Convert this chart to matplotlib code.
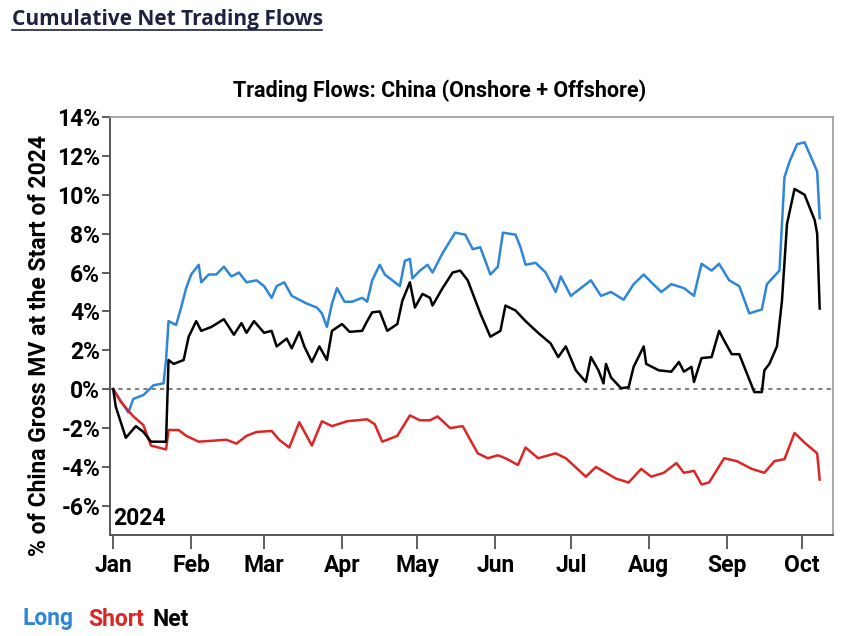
import matplotlib
matplotlib.use("Agg")
import matplotlib.pyplot as plt
import matplotlib.dates as mdates
import pandas as pd

# Long (gross buying) cumulative flows, % of gross MV
long_dates = ["2024-01-01", "2024-01-07", "2024-01-09", "2024-01-13", "2024-01-17", "2024-01-21",
              "2024-01-22", "2024-01-23", "2024-01-26", "2024-01-28", "2024-01-30", "2024-02-01",
              "2024-02-04", "2024-02-05", "2024-02-08", "2024-02-11", "2024-02-14", "2024-02-17",
              "2024-02-20", "2024-02-23", "2024-02-27", "2024-03-01", "2024-03-04", "2024-03-06",
              "2024-03-09", "2024-03-12", "2024-03-15", "2024-03-18", "2024-03-22", "2024-03-24",
              "2024-03-26", "2024-03-28", "2024-03-30", "2024-04-02", "2024-04-05", "2024-04-09",
              "2024-04-11", "2024-04-13", "2024-04-16", "2024-04-18", "2024-04-21", "2024-04-24",
              "2024-04-26", "2024-04-28", "2024-04-29", "2024-05-02", "2024-05-05", "2024-05-07",
              "2024-05-11", "2024-05-16", "2024-05-20", "2024-05-23", "2024-05-26", "2024-05-30",
              "2024-06-02", "2024-06-04", "2024-06-09", "2024-06-11", "2024-06-13", "2024-06-17",
              "2024-06-21", "2024-06-25", "2024-06-27", "2024-07-01", "2024-07-04", "2024-07-09",
              "2024-07-13", "2024-07-17", "2024-07-22", "2024-07-26", "2024-07-30", "2024-08-02",
              "2024-08-06", "2024-08-10", "2024-08-15", "2024-08-19", "2024-08-22", "2024-08-26",
              "2024-08-29", "2024-09-02", "2024-09-06", "2024-09-10", "2024-09-15", "2024-09-17",
              "2024-09-22", "2024-09-24", "2024-09-26", "2024-09-29", "2024-10-02", "2024-10-04",
              "2024-10-07", "2024-10-08"]
long_vals = [0.0, -1.2, -0.5, -0.3, 0.2, 0.3,
             1.5, 3.5, 3.3, 4.2, 5.2, 5.9,
             6.4, 5.5, 5.9, 5.9, 6.3, 5.8,
             6.0, 5.5, 5.6, 5.3, 4.7, 5.3,
             5.5, 4.8, 4.6, 4.4, 4.2, 3.9,
             3.2, 4.4, 5.2, 4.5, 4.5, 4.7,
             4.5, 5.6, 6.4, 5.9, 5.6, 5.3,
             6.6, 6.7, 5.7, 6.1, 6.4, 6.0,
             7.0, 8.05, 7.95, 7.2, 7.3, 5.9,
             6.3, 8.05, 7.95, 7.3, 6.4, 6.5,
             6.0, 5.0, 5.8, 4.8, 5.1, 5.6,
             4.8, 5.0, 4.6, 5.4, 5.9, 5.5,
             5.0, 5.4, 5.2, 4.8, 6.45, 6.1,
             6.45, 5.6, 5.3, 3.9, 4.1, 5.4,
             6.1, 10.9, 11.7, 12.6, 12.7, 12.1,
             11.2, 8.8]

# Short cumulative flows
short_dates = ["2024-01-01", "2024-01-04", "2024-01-09", "2024-01-13", "2024-01-16", "2024-01-22",
               "2024-01-23", "2024-01-27", "2024-01-30", "2024-02-04", "2024-02-15", "2024-02-19",
               "2024-02-23", "2024-02-27", "2024-03-04", "2024-03-07", "2024-03-11", "2024-03-15",
               "2024-03-20", "2024-03-24", "2024-03-28", "2024-04-03", "2024-04-11", "2024-04-14",
               "2024-04-17", "2024-04-23", "2024-04-28", "2024-05-02", "2024-05-06", "2024-05-09",
               "2024-05-14", "2024-05-19", "2024-05-22", "2024-05-25", "2024-05-29", "2024-06-02",
               "2024-06-05", "2024-06-10", "2024-06-13", "2024-06-18", "2024-06-25", "2024-06-29",
               "2024-07-07", "2024-07-11", "2024-07-15", "2024-07-19", "2024-07-24", "2024-07-29",
               "2024-08-02", "2024-08-07", "2024-08-12", "2024-08-15", "2024-08-19", "2024-08-22",
               "2024-08-25", "2024-08-31", "2024-09-05", "2024-09-11", "2024-09-16", "2024-09-20",
               "2024-09-24", "2024-09-28", "2024-10-02", "2024-10-07", "2024-10-08"]
short_vals = [0.0, -0.65, -1.4, -1.85, -2.9, -3.1,
              -2.1, -2.1, -2.4, -2.7, -2.6, -2.8,
              -2.4, -2.2, -2.15, -2.6, -3.0, -1.7,
              -2.9, -1.65, -1.9, -1.65, -1.55, -1.8,
              -2.7, -2.4, -1.35, -1.6, -1.6, -1.4,
              -2.0, -1.9, -2.6, -3.3, -3.55, -3.4,
              -3.55, -3.9, -3.0, -3.55, -3.3, -3.55,
              -4.5, -4.0, -4.3, -4.6, -4.8, -4.1,
              -4.5, -4.3, -3.8, -4.3, -4.2, -4.9,
              -4.8, -3.55, -3.7, -4.1, -4.3, -3.7,
              -3.6, -2.25, -2.75, -3.3, -4.65]

# Net cumulative flows
net_dates = ["2024-01-01", "2024-01-02", "2024-01-06", "2024-01-10", "2024-01-13", "2024-01-16",
             "2024-01-20", "2024-01-22", "2024-01-23", "2024-01-25", "2024-01-29", "2024-01-31",
             "2024-02-03", "2024-02-05", "2024-02-09", "2024-02-14", "2024-02-18", "2024-02-21",
             "2024-02-23", "2024-02-26", "2024-03-01", "2024-03-04", "2024-03-06", "2024-03-10",
             "2024-03-12", "2024-03-15", "2024-03-17", "2024-03-20", "2024-03-23", "2024-03-26",
             "2024-03-28", "2024-04-01", "2024-04-04", "2024-04-09", "2024-04-11", "2024-04-13",
             "2024-04-16", "2024-04-19", "2024-04-23", "2024-04-25", "2024-04-28", "2024-04-30",
             "2024-05-03", "2024-05-06", "2024-05-07", "2024-05-11", "2024-05-15", "2024-05-18",
             "2024-05-21", "2024-05-26", "2024-05-30", "2024-06-03", "2024-06-05", "2024-06-09",
             "2024-06-13", "2024-06-18", "2024-06-23", "2024-06-26", "2024-06-29", "2024-07-03",
             "2024-07-07", "2024-07-09", "2024-07-12", "2024-07-14", "2024-07-15", "2024-07-17",
             "2024-07-21", "2024-07-24", "2024-07-26", "2024-07-30", "2024-07-31", "2024-08-05",
             "2024-08-10", "2024-08-13", "2024-08-15", "2024-08-18", "2024-08-19", "2024-08-22",
             "2024-08-26", "2024-08-29", "2024-08-31", "2024-09-03", "2024-09-06", "2024-09-10",
             "2024-09-12", "2024-09-15", "2024-09-16", "2024-09-18", "2024-09-21", "2024-09-23",
             "2024-09-25", "2024-09-28", "2024-10-02", "2024-10-06", "2024-10-07", "2024-10-08"]
net_vals = [0.0, -0.9, -2.5, -1.9, -2.2, -2.7,
            -2.7, -2.7, 1.5, 1.3, 1.5, 2.7,
            3.5, 3.0, 3.2, 3.6, 2.8, 3.4,
            2.9, 3.5, 2.9, 3.0, 2.2, 2.6,
            2.1, 2.95, 2.2, 1.4, 2.2, 1.5,
            3.0, 3.35, 2.95, 3.0, 3.5, 3.95,
            4.0, 3.0, 3.35, 4.55, 5.5, 4.2,
            4.9, 4.7, 4.3, 5.2, 6.0, 6.1,
            5.6, 3.9, 2.7, 3.0, 4.3, 4.05,
            3.5, 2.9, 2.35, 1.65, 2.2, 0.97,
            0.37, 1.65, 0.97, 0.3, 1.3, 0.6,
            0.05, 0.1, 1.15, 2.2, 1.3, 0.97,
            0.9, 1.4, 0.9, 1.15, 0.37, 1.6,
            1.65, 3.0, 2.5, 1.8, 1.8, 0.5,
            -0.15, -0.15, 0.97, 1.3, 2.2, 4.55,
            8.5, 10.3, 10.0, 8.7, 8.0, 4.15]

y_ticks = [-6, -4, -2, 0, 2, 4, 6, 8, 10, 12, 14]

blue = "#2f86d8"
red = "#dc2626"
navy = "#1c2340"

plt.rcParams["font.family"] = ["Roboto", "DejaVu Sans"]

fig = plt.figure(figsize=(8.48, 6.36), dpi=100)
ax = fig.add_axes([110 / 848, 1 - 535 / 636, 723 / 848, 418 / 636])

ax.plot(pd.to_datetime(long_dates), long_vals, color=blue, lw=1.8)
ax.plot(pd.to_datetime(short_dates), short_vals, color=red, lw=1.8)
ax.plot(pd.to_datetime(net_dates), net_vals, color="black", lw=1.8)
ax.axhline(0, color="#666666", lw=1.2, ls=(0, (2.5, 2.5)), zorder=0)

ax.set_xlim(pd.Timestamp("2024-01-01") - pd.Timedelta(hours=31),
            pd.Timestamp("2024-10-01") + pd.Timedelta(days=12.3))
ax.set_ylim(-7.5, 14)
ax.set_yticks(y_ticks)
ax.set_yticklabels([f"{t}%" for t in y_ticks])
ax.xaxis.set_major_locator(mdates.MonthLocator())
ax.xaxis.set_major_formatter(mdates.DateFormatter("%b"))

ax.tick_params(axis="both", labelsize=16.5, width=1.2, color="#444444")
for lab in ax.get_xticklabels() + ax.get_yticklabels():
    lab.set_fontweight("bold")
ax.tick_params(axis="y", length=6, pad=1)
ax.tick_params(axis="x", length=10, pad=4)

for side in ["top", "right"]:
    ax.spines[side].set_color("#9a9a9a")
    ax.spines[side].set_linewidth(1.2)
for side in ["left", "bottom"]:
    ax.spines[side].set_color("#555555")
    ax.spines[side].set_linewidth(1.4)

fig.text(40 / 848, 1 - 345 / 636, "% of China Gross MV at the Start of 2024", rotation=90,
         fontsize=16.5, fontweight="bold", ha="center", va="center")
fig.text(440 / 848, 1 - 97 / 636, "Trading Flows: China (Onshore + Offshore)", fontsize=15.5,
         fontweight="bold", ha="center", va="baseline")
ax.text(0.005, 0.012, "2024", transform=ax.transAxes, fontsize=16.5, fontweight="bold",
        ha="left", va="bottom")

# heading with underline
fig.text(12 / 848, 1 - 19 / 636, "Cumulative Net Trading Flows", fontsize=15,
         fontweight="bold", family=["Open Sans", "DejaVu Sans"], color=navy, va="center")
fig.add_artist(plt.Line2D([12 / 848, 322 / 848], [1 - 30 / 636, 1 - 30 / 636], color=navy, lw=1.2))

# coloured legend text
fig.text(22 / 848, 1 - 619 / 636, "Long", color=blue, fontsize=16.5, fontweight="bold", va="center")
fig.text(88 / 848, 1 - 619 / 636, "Short", color=red, fontsize=16.5, fontweight="bold", va="center")
fig.text(152 / 848, 1 - 619 / 636, "Net", color="black", fontsize=16.5, fontweight="bold", va="center")

fig.savefig("out.png", dpi=100, facecolor="white")
